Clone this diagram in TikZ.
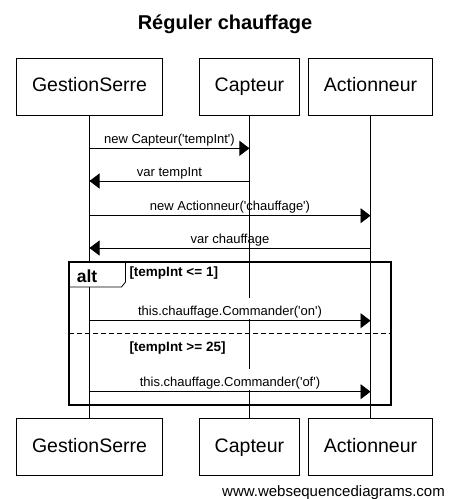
\documentclass[tikz,border=0pt]{standalone}
\usepackage{fontspec}
\setmainfont{Liberation Sans}
\usetikzlibrary{positioning, arrows.meta}
\newcommand{\squote}{\textquotesingle}

\begin{document}
\begin{tikzpicture}[
    x=1pt, y=-1pt,
    node distance=36pt,
    participant/.style={
        draw,
        rectangle,
        line width=0.8pt,
        minimum height=57pt,
        inner xsep=15.5pt,
        text height=14pt,
        text depth=4pt,
        font=\fontsize{19.5}{22}\selectfont
    },
    lifeline/.style={
        line width=0.8pt
    },
    msg/.style={
        -{Triangle[length=10pt,width=15pt]},
        line width=0.8pt
    },
    msglabel/.style={
        midway,
        anchor=base,
        yshift=5pt,
        inner sep=0pt,
        font=\fontsize{13}{15}\selectfont
    },
    inlabel/.style={
        msglabel,
        fill=white,
        text height=17.5pt,
        text depth=3pt
    },
    altframe/.style={
        draw,
        line width=2pt
    },
    alttag/.style={
        draw,
        fill=white,
        line width=0.8pt
    },
    guard/.style={
        anchor=west,
        inner sep=0pt,
        font=\bfseries\fontsize{13.5}{16}\selectfont
    }
]
\useasboundingbox (0,0) rectangle (449,499);

% Title
\node[inner sep=0pt, font=\bfseries\fontsize{20}{24}\selectfont] (title) at (225,24) {Réguler chauffage};

% Participants
\node[participant] (gsTop) at (89.5,86.5) {GestionSerre};
\node[participant, right=36pt of gsTop] (capTop) {Capteur};
\node[participant, right=8pt of capTop] (actTop) {Actionneur};

\node[participant, below=303pt of gsTop] (gsBot) {GestionSerre};
\node[participant, below=303pt of capTop] (capBot) {Capteur};
\node[participant, below=303pt of actTop] (actBot) {Actionneur};

% Lifelines
\draw[lifeline] (gsTop) -- (gsBot);
\draw[lifeline] (capTop) -- (capBot);
\draw[lifeline] (actTop) -- (actBot);

% Message rows
\foreach \r/\yy in {1/148.3, 2/181, 3/215.7, 4/248, 5/320.7, 6/391.7} {
    \coordinate (gs\r) at (gsTop |- 0,\yy);
    \coordinate (cap\r) at (capTop |- 0,\yy);
    \coordinate (act\r) at (actTop |- 0,\yy);
}

\draw[msg] (gs1) -- node[msglabel] {new Capteur(\squote tempInt\squote)} (cap1);
\draw[msg] (cap2) -- node[msglabel] {var tempInt} (gs2);
\draw[msg] (gs3) -- node[msglabel] {new Actionneur(\squote chauffage\squote)} (act3);
\draw[msg] (act4) -- node[msglabel] {var chauffage} (gs4);

% alt fragment
\coordinate (altNW) at (69,262);
\coordinate (altSE) at (391,405);
\coordinate (altW) at (69,333.3);
\coordinate (altE) at (391,333.3);

\draw[alttag] (altNW) -- ++(56.5,0) -- ++(0,20) -- ++(-4,5) -- ++(-52.5,0) -- cycle;
\node[anchor=west, inner sep=0pt, font=\bfseries\fontsize{17.5}{20}\selectfont] (altLabel) at (76.7,275.8) {alt};
\draw[altframe] (altNW) rectangle (altSE);

\node[guard] (guardOn) at (129.3,273.3) {[tempInt <= 1]};
\draw[msg] (gs5) -- node[inlabel] {this.chauffage.Commander(\squote on\squote)} (act5);

\draw[line width=1.5pt, dash pattern=on 5pt off 3pt] (altW) -- (altE);

\node[guard] (guardOff) at (129.3,347.8) {[tempInt >= 25]};
\draw[msg] (gs6) -- node[inlabel] {this.chauffage.Commander(\squote of\squote)} (act6);

% Watermark
\node[anchor=east, inner sep=0pt, font=\fontsize{15}{17}\selectfont] (mark) at (445,493) {www.websequencediagrams.com};

\end{tikzpicture}
\end{document}
